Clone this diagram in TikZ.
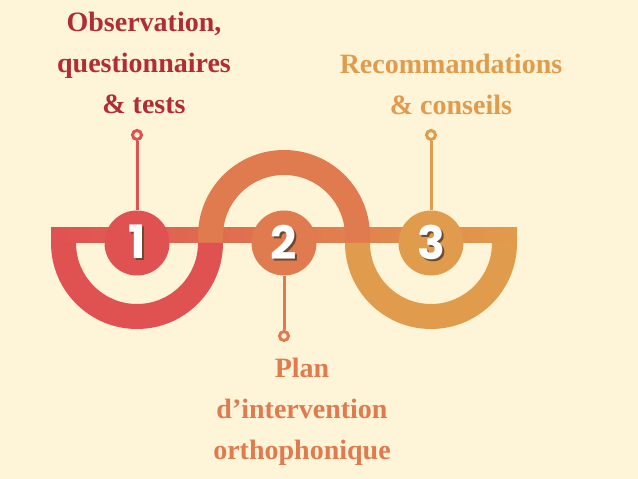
\documentclass[tikz,border=0pt]{standalone}
\usepackage{fontspec}
\usetikzlibrary{positioning}
\newfontfamily\labfont{Liberation Serif}
\newfontfamily\numfont{Poppins}
\definecolor{bgcream}{HTML}{FEF4D8}
\definecolor{stepred}{HTML}{E05151}
\definecolor{steporange}{HTML}{E07A4F}
\definecolor{stepgold}{HTML}{E19B4C}
\definecolor{labred}{HTML}{B22D33}
\definecolor{numshade}{HTML}{6B4A33}
\newcommand\shadnum[1]{\rlap{\kern2pt\raisebox{-2pt}{\color{numshade}#1}}#1}

\begin{document}
\begin{tikzpicture}[
    x=1pt, y=1pt,
    num_circ/.style={circle, minimum size=65pt, inner sep=0pt, text=white, font=\numfont\bfseries\fontsize{46}{46}\selectfont},
    pin_ring/.style={circle, draw, line width=3pt, fill=bgcream, minimum size=9pt, inner sep=0pt},
    pin_line/.style={line width=3pt},
    lab_text/.style={align=center, inner sep=0pt, font=\labfont\bfseries\fontsize{28}{41}\selectfont}
]

% background
\fill[bgcream] (0,0) rectangle (638,479);
\useasboundingbox (0,0) rectangle (638,479);

% band and curves
\shade[left color=stepred, middle color=steporange, right color=stepgold] (51,236) rectangle (517,251);
\fill[steporange] (198,236) -- (198,243) arc[start angle=180, end angle=0, radius=86] -- (370,236) -- (345,236)
    -- (345,243) arc[start angle=0, end angle=180, radius=61] -- (223,236) -- cycle;
\fill[stepred] (51,236) arc[start angle=180, end angle=360, radius=86] -- (198,236)
    arc[start angle=0, end angle=-180, radius=61] -- cycle;
\fill[stepgold] (345,236) arc[start angle=180, end angle=360, radius=86] -- (492,236)
    arc[start angle=0, end angle=-180, radius=61] -- cycle;

% steps
\node[num_circ, fill=stepred] (c1) at (137,236) {\shadnum{1}};
\node[num_circ, fill=steporange] (c2) at (284,236) {\shadnum{2}};
\node[num_circ, fill=stepgold] (c3) at (431,236) {\shadnum{3}};

\node[pin_ring, draw=stepred] (p1) at (137,344) {};
\node[pin_ring, draw=steporange] (p2) at (284,143) {};
\node[pin_ring, draw=stepgold] (p3) at (431,344) {};

\draw[pin_line, stepred] (c1) -- (p1);
\draw[pin_line, steporange] (c2) -- (p2);
\draw[pin_line, stepgold] (c3) -- (p3);

\node[lab_text, text=labred, above=15pt of p1, xshift=7pt] (l1) {
    Observation,\\
    questionnaires\\
    \& tests
};

\node[lab_text, text=steporange, below=16pt of p2, xshift=18pt] (l2) {
    Plan\\
    d’intervention\\
    orthophonique
};

\node[lab_text, text=stepgold, above=14pt of p3, xshift=20pt] (l3) {
    Recommandations\\
    \& conseils
};

\end{tikzpicture}
\end{document}
